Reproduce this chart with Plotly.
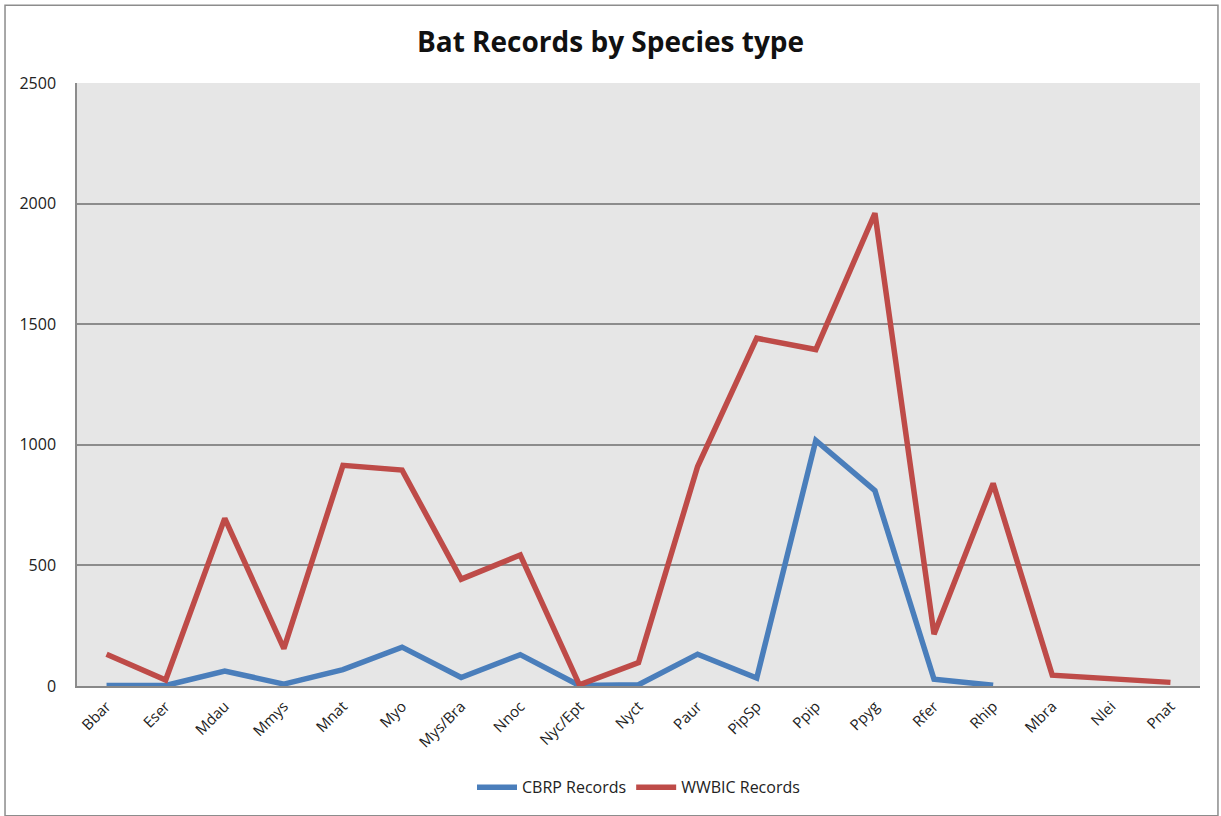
import plotly.graph_objects as go

species = ["Bbar", "Eser", "Mdau", "Mmys", "Mnat", "Myo", "Mys/Bra", "Nnoc", "Nyc/Ept",
           "Nyct", "Paur", "PipSp", "Ppip", "Ppyg", "Rfer", "Rhip", "Mbra", "Nlei", "Pnat"]
cbrp_records = [2, 2, 62, 8, 68, 161, 35, 130, 2, 5, 132, 33, 1018, 810, 28, 3, None, None, None]
wwbic_records = [132, 25, 695, 155, 915, 895, 443, 543, 5, 97, 910, 1442, 1395, 1960, 215, 840,
                 45, 30, 15]

BLUE = "#4A7EBB"
RED = "#BE4B48"
FONT = "Open Sans, DejaVu Sans, sans-serif"

fig = go.Figure()
fig.add_trace(go.Scatter(x=species, y=cbrp_records, name="CBRP Records", mode="lines",
                         line=dict(color=BLUE, width=5.5), connectgaps=False))
fig.add_trace(go.Scatter(x=species, y=wwbic_records, name="WWBIC Records", mode="lines",
                         line=dict(color=RED, width=5.5)))

fig.update_layout(
    width=1221, height=816,
    margin=dict(l=77, r=21, t=83, b=128),
    paper_bgcolor="white",
    plot_bgcolor="#E6E6E6",
    font=dict(family=FONT, color="#222222"),
    title=dict(text="<b>Bat Records by Species type</b>", x=0.5, xanchor="center",
               y=0.948, yanchor="middle", font=dict(size=28, color="#111111", family=FONT)),
    showlegend=True,
    legend=dict(orientation="h", x=0.5, xanchor="center", y=-0.168, yanchor="middle",
                font=dict(size=16, color="#222222"), itemwidth=40, bgcolor="rgba(0,0,0,0)"),
    xaxis=dict(type="category", tickangle=-45, tickfont=dict(size=15, color="#222222"),
               showgrid=False, showline=True, linecolor="#888888", linewidth=1.5,
               ticks="", range=[-0.5, len(species) - 0.5], ticklabelstandoff=4),
    yaxis=dict(range=[0, 2500], tickvals=[0, 500, 1000, 1500, 2000, 2500],
               tickfont=dict(size=16, color="#222222"), showgrid=True, gridcolor="#8C8C8C",
               gridwidth=1.5, showline=True, linecolor="#8C8C8C", linewidth=1.5,
               zeroline=False, ticks="", ticklabelstandoff=16),
)

# outer chart border
fig.add_shape(type="rect", xref="paper", yref="paper",
              x0=-0.0641, x1=1.016, y0=-0.215, y1=1.129,
              line=dict(color="#8C8C8C", width=1.5), fillcolor="rgba(0,0,0,0)", layer="below")

fig.write_html("out.html")
